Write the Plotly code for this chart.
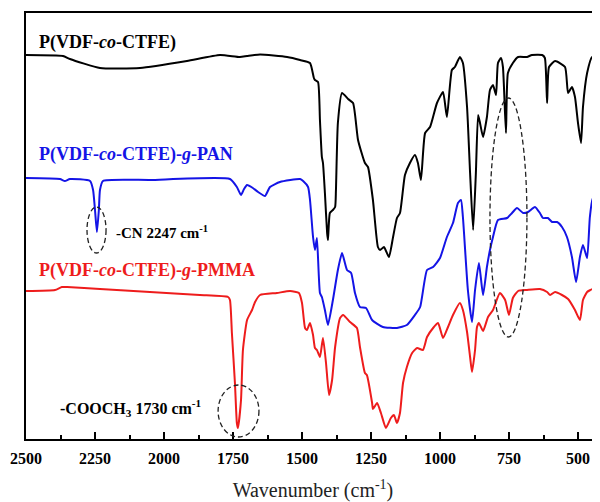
import plotly.graph_objects as go

# ---------------- data ----------------
# P(VDF-co-CTFE)
wn_ctfe = [2500, 2366, 2341, 2232, 2087, 1917, 1797, 1725, 1699, 1652, 1554, 1507, 1471, 1457,
           1453, 1442, 1435, 1428, 1424, 1417, 1409, 1406, 1399, 1388, 1380, 1377, 1370, 1355,
           1333, 1315, 1297, 1272, 1261, 1243, 1225, 1217, 1203, 1185, 1170, 1156, 1145, 1127,
           1109, 1091, 1080, 1069, 1054, 1036, 1011, 989, 975, 957, 946, 928, 917, 902, 891,
           880, 870, 862, 855, 844, 830, 819, 808, 797, 790, 779, 772, 761, 754, 736, 717, 685,
           667, 630, 620, 612, 605, 583, 547, 536, 522, 511, 500, 489, 482, 467, 449, 420]
t_ctfe = [384, 383, 380, 371, 371, 378, 384, 382, 383, 384.5, 382, 379, 376, 361,
          359, 357, 319, 282, 276, 246, 206, 199, 226, 229, 232, 249, 316, 346,
          340, 336, 299, 276, 272, 239, 192, 189, 192, 182, 202, 221, 226, 264,
          276, 284, 276, 259, 306, 312, 336, 347, 322, 369, 372, 382, 376, 332, 266,
          209, 266, 324, 316, 302, 322, 349, 354, 344, 376, 381, 372, 306, 366, 376, 382, 382,
          384, 384, 381, 336, 372, 378, 372, 346, 352, 342, 316, 296, 332, 366, 382, 381]

# P(VDF-co-CTFE)-g-PAN
wn_pan = [2500, 2377, 2359, 2341, 2268, 2257, 2250, 2243, 2236, 2232, 2221, 2051, 1761, 1736,
          1721, 1710, 1699, 1678, 1659, 1634, 1616, 1580, 1507, 1496, 1478, 1471, 1460, 1453,
          1446, 1435, 1428, 1417, 1406, 1388, 1370, 1355, 1337, 1322, 1308, 1290, 1268, 1246,
          1207, 1156, 1120, 1091, 1072, 1047, 1025, 1000, 975, 953, 935, 924, 917, 899, 884,
          873, 859, 844, 830, 819, 808, 790, 757, 739, 721, 699, 681, 656, 638, 627, 609, 594,
          576, 558, 540, 522, 507, 493, 482, 467, 457, 446, 431, 420]
t_pan = [261, 260, 258, 260, 258, 249, 229, 207, 229, 249, 258, 259, 260, 252,
         244, 250, 254, 251, 247, 243, 252, 257, 260, 258, 252, 239, 202, 189,
         201, 146, 142, 129, 114, 139, 169, 186, 169, 166, 146, 132, 131, 119,
         112, 111, 114, 124, 132, 169, 172, 181, 202, 216, 236, 239, 222, 149, 117,
         149, 176, 144, 172, 189, 202, 219, 221, 226, 231, 226, 227, 232, 226, 221, 221, 217,
         217, 212, 202, 182, 157, 182, 194, 181, 222, 241, 239, 237]

# P(VDF-co-CTFE)-g-PMMA
wn_pmma = [2500, 2395, 2370, 2351, 2232, 2051, 1870, 1768, 1761, 1754, 1743, 1736, 1732, 1721,
           1714, 1699, 1681, 1670, 1652, 1591, 1543, 1511, 1500, 1489, 1482, 1471, 1460, 1453,
           1446, 1435, 1424, 1413, 1402, 1391, 1380, 1362, 1351, 1326, 1301, 1290, 1272, 1265,
           1246, 1243, 1228, 1214, 1196, 1178, 1167, 1156, 1145, 1134, 1120, 1101, 1083, 1062,
           1047, 1025, 1007, 989, 971, 953, 928, 917, 902, 891, 884, 873, 866, 859, 844, 826,
           808, 783, 764, 750, 736, 717, 685, 638, 612, 601, 583, 558, 536, 511, 493, 482, 467,
           446, 420]
t_pmma = [148, 149, 152, 152, 150, 147, 144, 142, 139, 106, 56, 16, 11, 39,
          89, 119, 129, 137, 144, 146, 148, 146, 136, 111, 109, 116, 104, 91,
          89, 82, 101, 76, 44, 59, 92, 121, 124, 117, 111, 92, 66, 64,
          36, 30, 36, 26, 11, 21, 24, 16, 26, 56, 72, 86, 91, 89,
          102, 111, 116, 101, 112, 124, 136, 129, 107, 82, 67, 89, 112, 116, 108, 122,
          129, 146, 139, 124, 141, 148, 149, 150, 147, 144, 147, 144, 140, 129, 119, 139, 147,
          150, 148]

x_ticks = [2500, 2250, 2000, 1750, 1500, 1250, 1000, 750, 500]

# ---------------- figure ----------------
SERIF = "Liberation Serif, Times New Roman, serif"
BLACK, BLUE, RED = "#000000", "#1414e6", "#ee1c1c"

fig = go.Figure()
for wn, t, col in [(wn_ctfe, t_ctfe, BLACK), (wn_pan, t_pan, BLUE), (wn_pmma, t_pmma, RED)]:
    fig.add_trace(go.Scatter(x=wn, y=t, mode="lines",
                             line=dict(color=col, width=2, shape="spline", smoothing=0.5),
                             showlegend=False, hoverinfo="skip"))

labels = [
    ("<b>P(VDF-<i>co</i>-CTFE)</b>", 2460, 397, BLACK, 18),
    ("<b>P(VDF-<i>co</i>-CTFE)-<i>g</i>-PAN</b>", 2460, 285, BLUE, 18),
    ("<b>P(VDF-<i>co</i>-CTFE)-<i>g</i>-PMMA</b>", 2460, 169, RED, 18),
    ("<b>-CN 2247 cm<sup>-1</sup></b>", 2180, 207, BLACK, 15),
    ("<b>-COOCH<sub>3</sub> 1730 cm<sup>-1</sup></b>", 2384, 31, BLACK, 16),
]
for txt, x, y, col, size in labels:
    fig.add_annotation(x=x, y=y, xref="x", yref="y", text=txt, showarrow=False,
                       xanchor="left", yanchor="middle",
                       font=dict(family=SERIF, size=size, color=col))

dash_line = dict(color="#222222", width=1.3, dash="5px,3px")
fig.add_shape(type="circle", xref="x", yref="y", x0=2279, x1=2210, y0=186, y1=232, line=dash_line)
fig.add_shape(type="circle", xref="x", yref="y", x0=1804, x1=1656, y0=2, y1=54, line=dash_line)
fig.add_shape(type="circle", xref="x", yref="y", x0=819, x1=685, y0=102, y1=341, line=dash_line)

# the page body adds an 8 px margin, so the figure is sized/offset to compensate
fig.update_layout(
    width=592, height=494,
    margin=dict(l=18, r=0, t=5, b=63, autoexpand=False),
    plot_bgcolor="white", paper_bgcolor="white",
    font=dict(family=SERIF, color="black"),
    xaxis=dict(
        range=[2500, 420.3], tickmode="array", tickvals=x_ticks,
        ticks="inside", ticklen=7, tickwidth=1.5, tickcolor="black",
        minor=dict(ticks="inside", ticklen=4, tickwidth=1.5, tickcolor="black",
                   tickmode="linear", tick0=0, dtick=125),
        showline=True, linewidth=2, linecolor="black", mirror=True,
        showgrid=False, zeroline=False, automargin=False,
        tickfont=dict(family=SERIF, size=16, color="black", weight="bold"),
        ticklabelstandoff=4,
        title=dict(text="Wavenumber (cm<sup>-1</sup>)", standoff=19,
                   font=dict(family=SERIF, size=20, color="#222222")),
    ),
    yaxis=dict(
        range=[0, 426], showticklabels=False, ticks="",
        showline=True, linewidth=2, linecolor="black",
        showgrid=False, zeroline=False, automargin=False,
    ),
)

fig.write_html("out.html")
